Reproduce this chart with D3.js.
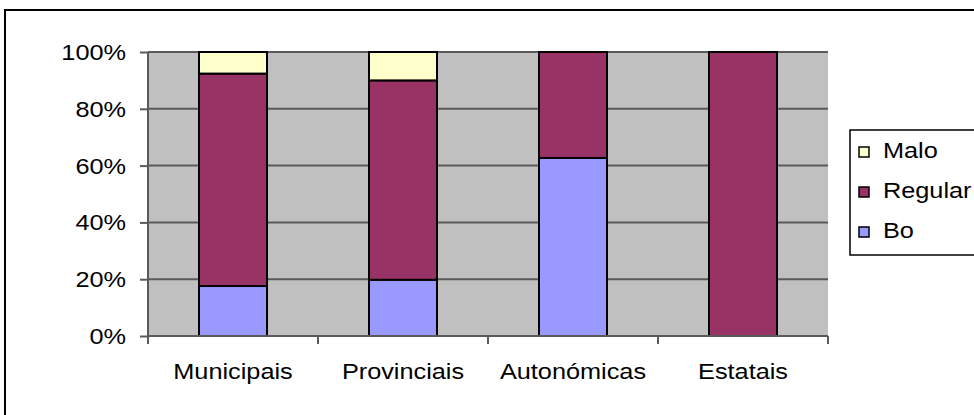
<!DOCTYPE html>
<html><head><meta charset="utf-8">
<script src="https://cdn.jsdelivr.net/npm/d3@7"></script>
<style>html,body{margin:0;padding:0;background:#fff;overflow:hidden}</style>
</head><body>
<svg id="c" width="974" height="415"></svg>
<script>
const categories = ["Municipais", "Provinciais", "Autonómicas", "Estatais"];
const seriesNames = ["Bo", "Regular", "Malo"];
const bo      = [17.6, 19.8, 62.7, 0];
const regular = [74.8, 70.2, 37.3, 100];
const malo    = [7.6, 10.0, 0, 0];
const yTicks  = [0, 20, 40, 60, 80, 100];
const colors  = ["#9999FF", "#993366", "#FFFFCC"];

const svg = d3.select("#c");
const FONT = "Arial, 'Liberation Sans', sans-serif";
const FS = 22, SX = 1.15;

// outer border
svg.append("rect").attr("x",5).attr("y",10).attr("width",1000).attr("height",500)
  .attr("fill","none").attr("stroke","#000").attr("stroke-width",2);

const L=148, R=828, T=52, B=336;
const x = d3.scaleBand().domain(categories).range([L,R]).paddingInner(0.6).paddingOuter(0.3);
const y = d3.scaleLinear().domain([0,100]).range([B,T]);

svg.append("rect").attr("x",L).attr("y",T).attr("width",R-L).attr("height",B-T).attr("fill","#C0C0C0");

// gridlines
svg.append("g").selectAll("line").data(yTicks.filter(d=>d>0)).join("line")
  .attr("x1",L).attr("x2",R).attr("y1",d=>y(d)).attr("y2",d=>y(d))
  .attr("stroke","#5a5a5a").attr("stroke-width",2);

// stacked data
const rows = categories.map((c,i)=>({cat:c, Bo:bo[i], Regular:regular[i], Malo:malo[i]}));
const stack = d3.stack().keys(seriesNames)(rows);
svg.append("g").selectAll("g").data(stack).join("g").attr("fill",(d,i)=>colors[i])
  .selectAll("rect").data(d=>d.filter(p=>p[1]-p[0]>0)).join("rect")
  .attr("x",d=>x(d.data.cat)).attr("width",x.bandwidth())
  .attr("y",d=>y(d[1])).attr("height",d=>y(d[0])-y(d[1]))
  .attr("stroke","#000").attr("stroke-width",2);

// y axis
const yAxis = svg.append("g").attr("transform",`translate(${L},0)`)
  .call(d3.axisLeft(y).tickValues(yTicks).tickSize(8).tickFormat(d=>d+"%"));
yAxis.select(".domain").attr("stroke","#5a5a5a").attr("stroke-width",2).attr("d",`M0,${B+8}V${T}`);
yAxis.selectAll(".tick line").attr("stroke","#5a5a5a").attr("stroke-width",2);
yAxis.selectAll(".tick text").remove();
svg.append("g").selectAll("text").data(yTicks).join("text")
  .attr("transform",d=>`translate(126,${y(d)+8}) scale(${SX},1)`)
  .attr("text-anchor","end").attr("font-family",FONT).attr("font-size",FS).attr("fill","#000")
  .text(d=>d+"%");

// x axis
svg.append("line").attr("x1",L).attr("x2",R).attr("y1",B).attr("y2",B).attr("stroke","#5a5a5a").attr("stroke-width",2);
const bounds = d3.range(categories.length+1).map(i=>L+i*x.step());
svg.append("g").selectAll("line").data(bounds).join("line")
  .attr("x1",d=>d).attr("x2",d=>d).attr("y1",B).attr("y2",B+8)
  .attr("stroke","#5a5a5a").attr("stroke-width",2);
svg.append("g").selectAll("text").data(categories).join("text")
  .attr("transform",d=>`translate(${x(d)+x.bandwidth()/2},379) scale(${SX},1)`)
  .attr("text-anchor","middle").attr("font-family",FONT).attr("font-size",FS).attr("fill","#000")
  .text(d=>d);

// legend
const lg = svg.append("g");
lg.append("rect").attr("x",850).attr("y",130).attr("width",200).attr("height",125)
  .attr("fill","#fff").attr("stroke","#000").attr("stroke-width",1.5);
const legOrder = [2,1,0];
const le = lg.selectAll("g.e").data(legOrder).join("g").attr("class","e")
  .attr("transform",(d,i)=>`translate(0,${147+i*40})`);
le.append("rect").attr("x",859).attr("y",0).attr("width",10).attr("height",10)
  .attr("fill",d=>colors[d]).attr("stroke","#000").attr("stroke-width",1.5);
le.append("text").attr("transform",`translate(883,11) scale(${SX},1)`)
  .attr("font-family",FONT).attr("font-size",FS).attr("fill","#000").text(d=>seriesNames[d]);
</script>
</body></html>
